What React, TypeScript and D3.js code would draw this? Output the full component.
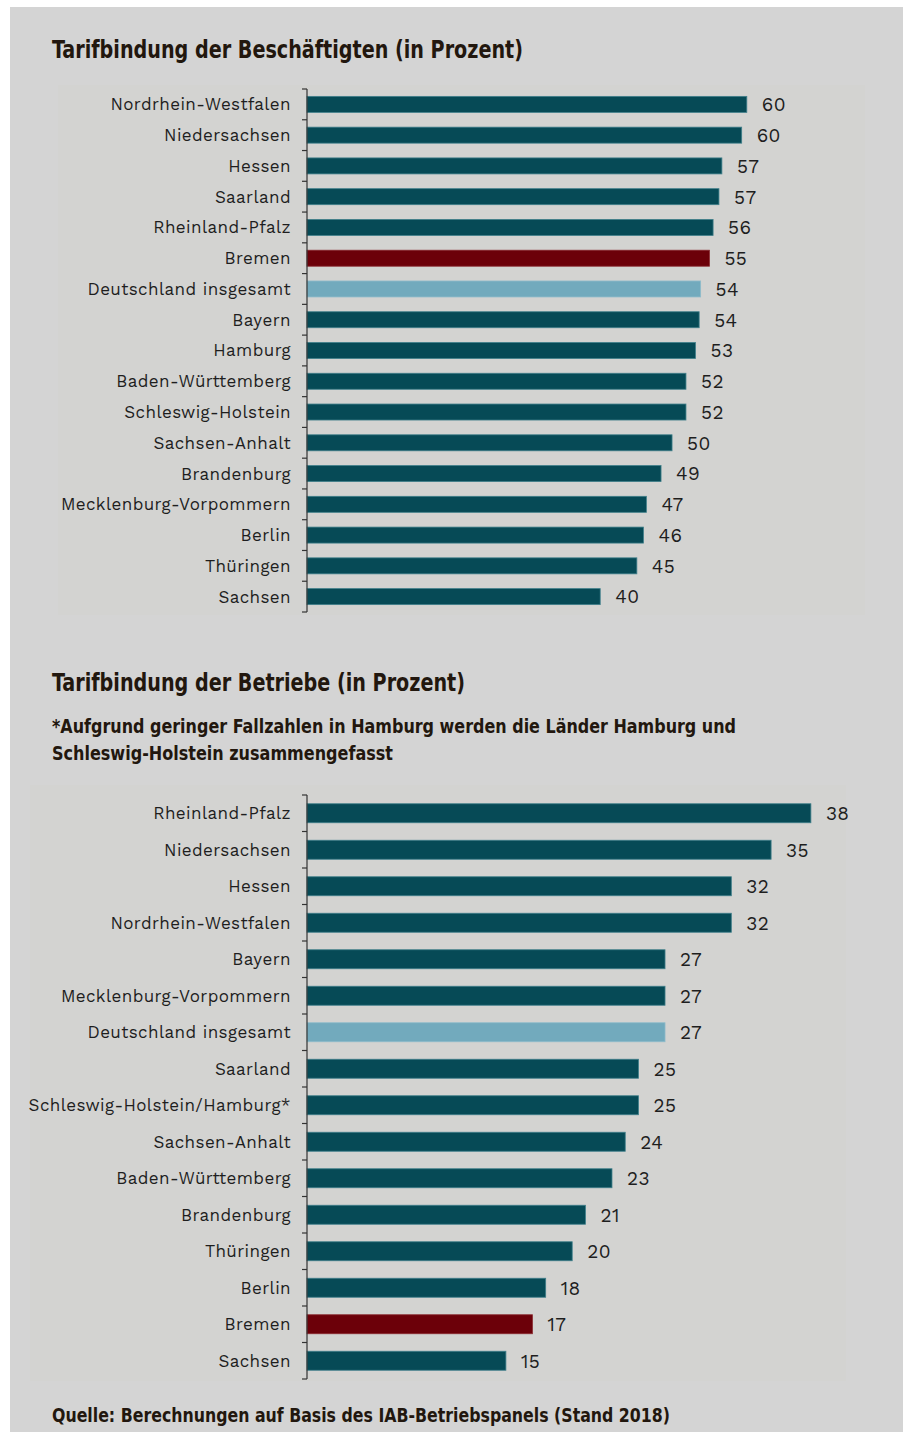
import React from "react";
import * as d3 from "d3";

const topCategories = [
  "Nordrhein-Westfalen", "Niedersachsen", "Hessen", "Saarland", "Rheinland-Pfalz",
  "Bremen", "Deutschland insgesamt", "Bayern", "Hamburg", "Baden-Württemberg",
  "Schleswig-Holstein", "Sachsen-Anhalt", "Brandenburg", "Mecklenburg-Vorpommern",
  "Berlin", "Thüringen", "Sachsen",
];
const topValues = [60.0, 59.3, 56.6, 56.2, 55.4, 54.9, 53.7, 53.5, 53.0, 51.7, 51.7, 49.8, 48.3, 46.3, 45.9, 45.0, 40.0];
const topLabels = ["60", "60", "57", "57", "56", "55", "54", "54", "53", "52", "52", "50", "49", "47", "46", "45", "40"];

const bottomCategories = [
  "Rheinland-Pfalz", "Niedersachsen", "Hessen", "Nordrhein-Westfalen", "Bayern",
  "Mecklenburg-Vorpommern", "Deutschland insgesamt", "Saarland", "Schleswig-Holstein/Hamburg*",
  "Sachsen-Anhalt", "Baden-Württemberg", "Brandenburg", "Thüringen", "Berlin", "Bremen", "Sachsen",
];
const bottomValues = [38, 35, 32, 32, 27, 27, 27, 25, 25, 24, 23, 21, 20, 18, 17, 15];
const bottomLabels = ["38", "35", "32", "32", "27", "27", "27", "25", "25", "24", "23", "21", "20", "18", "17", "15"];

const TEAL = "#064a56";
const RED = "#6c0009";
const LIGHT = "#72aabd";
const labelFont = "'Work Sans', 'Open Sans', 'Noto Sans', sans-serif";
const titleFont = "'Liberation Sans Narrow', 'DejaVu Sans Condensed', 'Open Sans', sans-serif";

function colorFor(cat: string) {
  if (cat === "Bremen") return RED;
  if (cat === "Deutschland insgesamt") return LIGHT;
  return TEAL;
}

type PanelProps = {
  cats: string[];
  vals: number[];
  labels: string[];
  y0: number;
  y1: number;
  pxPerUnit: number;
  barH: number;
};

function BarPanel({ cats, vals, labels, y0, y1, pxPerUnit, barH }: PanelProps) {
  const axisX = 307;
  const x = d3.scaleLinear().domain([0, 1]).range([axisX, axisX + pxPerUnit]);
  const step = (y1 - y0) / cats.length;
  const pad = 1 - barH / step;
  const y = d3.scaleBand<string>().domain(cats).range([y0, y1]).paddingInner(pad).paddingOuter(pad / 2);
  const boundaries = d3.range(cats.length + 1).map((i) => y0 + i * step);
  return (
    <g>
      {cats.map((c, i) => (
        <g key={c}>
          <rect
            x={x(0)}
            y={y(c)!}
            width={x(vals[i]) - x(0)}
            height={y.bandwidth()}
            fill={colorFor(c)}
            stroke={c === "Deutschland insgesamt" ? "#8fbccb" : c === "Bremen" ? "#8a2a30" : "#3f7f8a"}
            strokeWidth={0.8}
          />
          <text
            x={axisX - 16}
            y={y(c)! + y.bandwidth() / 2}
            dy="0.35em"
            textAnchor="end"
            fontFamily={labelFont}
            fontSize={17}
            letterSpacing={0.4}
            fill="#1e1e1e"
          >
            {c}
          </text>
          <text
            x={x(vals[i]) + 15}
            y={y(c)! + y.bandwidth() / 2}
            dy="0.36em"
            fontFamily={labelFont}
            fontSize={19}
            letterSpacing={0.4}
            fill="#1e1e1e"
          >
            {labels[i]}
          </text>
        </g>
      ))}
      <line x1={axisX} x2={axisX} y1={y0} y2={y1} stroke="#333" strokeWidth={1.2} />
      {boundaries.map((b, i) => (
        <line key={i} x1={axisX - 5} x2={axisX} y1={b} y2={b} stroke="#333" strokeWidth={1.2} />
      ))}
    </g>
  );
}

export default function App() {
  return (
    <svg
      width={903}
      height={1432}
      style={{ position: "absolute", left: 0, top: 0, display: "block" }}
    >
      <rect x={0} y={0} width={903} height={1432} fill="#ffffff" />
      <rect x={10} y={7} width={893} height={1425} fill="#d4d4d4" />
      <rect x={58} y={85} width={807} height={530} fill="#d3d3d1" />
      <rect x={30} y={785} width={816} height={596} fill="#d3d3d1" />

      <text x={52} y={58} fontFamily={titleFont} fontWeight="bold" fontSize={24} fill="#22170e" textLength={471} lengthAdjust="spacingAndGlyphs">
        Tarifbindung der Beschäftigten (in Prozent)
      </text>

      <BarPanel cats={topCategories} vals={topValues} labels={topLabels} y0={89} y1={612} pxPerUnit={7.33} barH={16} />

      <text x={52} y={691} fontFamily={titleFont} fontWeight="bold" fontSize={24} fill="#22170e" textLength={413} lengthAdjust="spacingAndGlyphs">
        Tarifbindung der Betriebe (in Prozent)
      </text>
      <text x={52} y={733} fontFamily={titleFont} fontWeight="bold" fontSize={20} fill="#22170e" textLength={684} lengthAdjust="spacingAndGlyphs">
        *Aufgrund geringer Fallzahlen in Hamburg werden die Länder Hamburg und
      </text>
      <text x={52} y={760} fontFamily={titleFont} fontWeight="bold" fontSize={20} fill="#22170e" textLength={341} lengthAdjust="spacingAndGlyphs">
        Schleswig-Holstein zusammengefasst
      </text>

      <BarPanel cats={bottomCategories} vals={bottomValues} labels={bottomLabels} y0={795} y1={1379} pxPerUnit={13.26} barH={19} />

      <text x={52} y={1422} fontFamily={titleFont} fontWeight="bold" fontSize={20} fill="#22170e" textLength={618} lengthAdjust="spacingAndGlyphs">
        Quelle: Berechnungen auf Basis des IAB-Betriebspanels (Stand 2018)
      </text>
    </svg>
  );
}
